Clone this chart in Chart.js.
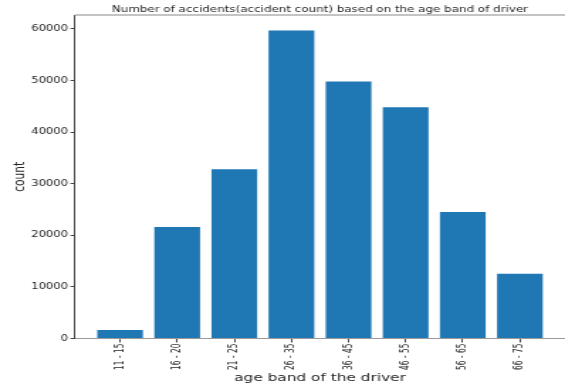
<!DOCTYPE html>
<html>
<head>
<meta charset="utf-8">
<script src="https://cdn.jsdelivr.net/npm/chart.js@4.4.1/dist/chart.umd.min.js"></script>
<style>
  html, body { margin: 0; padding: 0; background: #fff; overflow: hidden; }
  /* figure is drawn narrow, then stretched sideways to the page width */
  #accidentChart { display: block; transform: scaleX(1.4196); transform-origin: 0 0; }
</style>
</head>
<body>
<canvas id="accidentChart" width="398" height="385"></canvas>
<script>
// --- data ---
const AGE_BANDS = ['11 - 15', '16 - 20', '21 - 25', '26 - 35', '36 - 45', '46 - 55', '56 - 65', '66 - 75'];
const ACCIDENT_COUNTS = [1650, 21600, 32800, 59700, 49800, 44800, 24500, 12550];
const Y_TICKS = [0, 10000, 20000, 30000, 40000, 50000, 60000];
const TITLE = 'Number of accidents(accident count) based on the age band of driver';

const TEXT_COLOR = '#262626';
const BAR_COLOR = '#1f77b4';

// thin grey line along the top of the plot area
const topSpine = {
    id: 'topSpine',
    afterDraw(chart) {
        const { ctx, chartArea } = chart;
        ctx.save();
        ctx.strokeStyle = '#b0b0b0';
        ctx.lineWidth = 1.5;
        ctx.beginPath();
        ctx.moveTo(chartArea.left, chartArea.top);
        ctx.lineTo(chartArea.right + 1, chartArea.top);
        ctx.stroke();
        ctx.restore();
    }
};

new Chart(document.getElementById('accidentChart'), {
    type: 'bar',
    data: {
        datasets: [{
            label: 'count',
            data: ACCIDENT_COUNTS.map((v, i) => ({ x: i, y: v })),
            backgroundColor: BAR_COLOR,
            borderWidth: 0,
            barPercentage: 0.8,
            categoryPercentage: 1.0
        }]
    },
    options: {
        responsive: false,
        animation: false,
        layout: { padding: 0 },
        plugins: {
            legend: { display: false },
            tooltip: { enabled: false },
            title: {
                display: true,
                text: TITLE,
                fullSize: false,
                color: TEXT_COLOR,
                font: { family: 'DejaVu Sans', size: 8.4, weight: 'normal', lineHeight: 1.2 },
                padding: { top: 5, bottom: 0 }
            }
        },
        scales: {
            x: {
                type: 'linear',
                min: -0.79,
                max: 7.79,
                offset: false,
                afterBuildTicks: s => { s.ticks = AGE_BANDS.map((_, i) => ({ value: i })); },
                afterFit: s => { s.height = 46.5; },
                grid: { display: true, offset: false, drawOnChartArea: false, drawTicks: true, tickLength: 4, tickColor: '#444' },
                border: { display: true, color: '#999', width: 1 },
                ticks: {
                    autoSkip: false,
                    minRotation: 90,
                    maxRotation: 90,
                    padding: 1,
                    color: TEXT_COLOR,
                    font: { family: "'Liberation Sans Narrow', 'DejaVu Sans Condensed', 'DejaVu Sans'", size: 8.3 },
                    callback: v => AGE_BANDS[v]
                },
                title: {
                    display: true,
                    text: 'age band of the driver',
                    color: TEXT_COLOR,
                    font: { family: 'DejaVu Sans', size: 10.8, lineHeight: 1.2 },
                    padding: { top: 0, bottom: 0 }
                }
            },
            y: {
                min: 0,
                max: Math.max(...ACCIDENT_COUNTS) * 1.05,
                afterBuildTicks: s => { s.ticks = Y_TICKS.map(v => ({ value: v })); },
                afterFit: s => { s.width = 52.8; },
                grid: { display: true, drawOnChartArea: false, drawTicks: true, tickLength: 3.2, tickColor: '#444' },
                border: { display: true, color: '#444', width: 1 },
                ticks: {
                    padding: 1.6,
                    color: TEXT_COLOR,
                    font: { family: 'DejaVu Sans', size: 8.2 },
                    callback: v => String(v)
                },
                title: {
                    display: true,
                    text: 'count',
                    color: TEXT_COLOR,
                    font: { family: 'DejaVu Sans', size: 10.6, lineHeight: 1.2 },
                    padding: { top: 7.7, bottom: 0 }
                }
            }
        }
    },
    plugins: [topSpine]
});
</script>
</body>
</html>
